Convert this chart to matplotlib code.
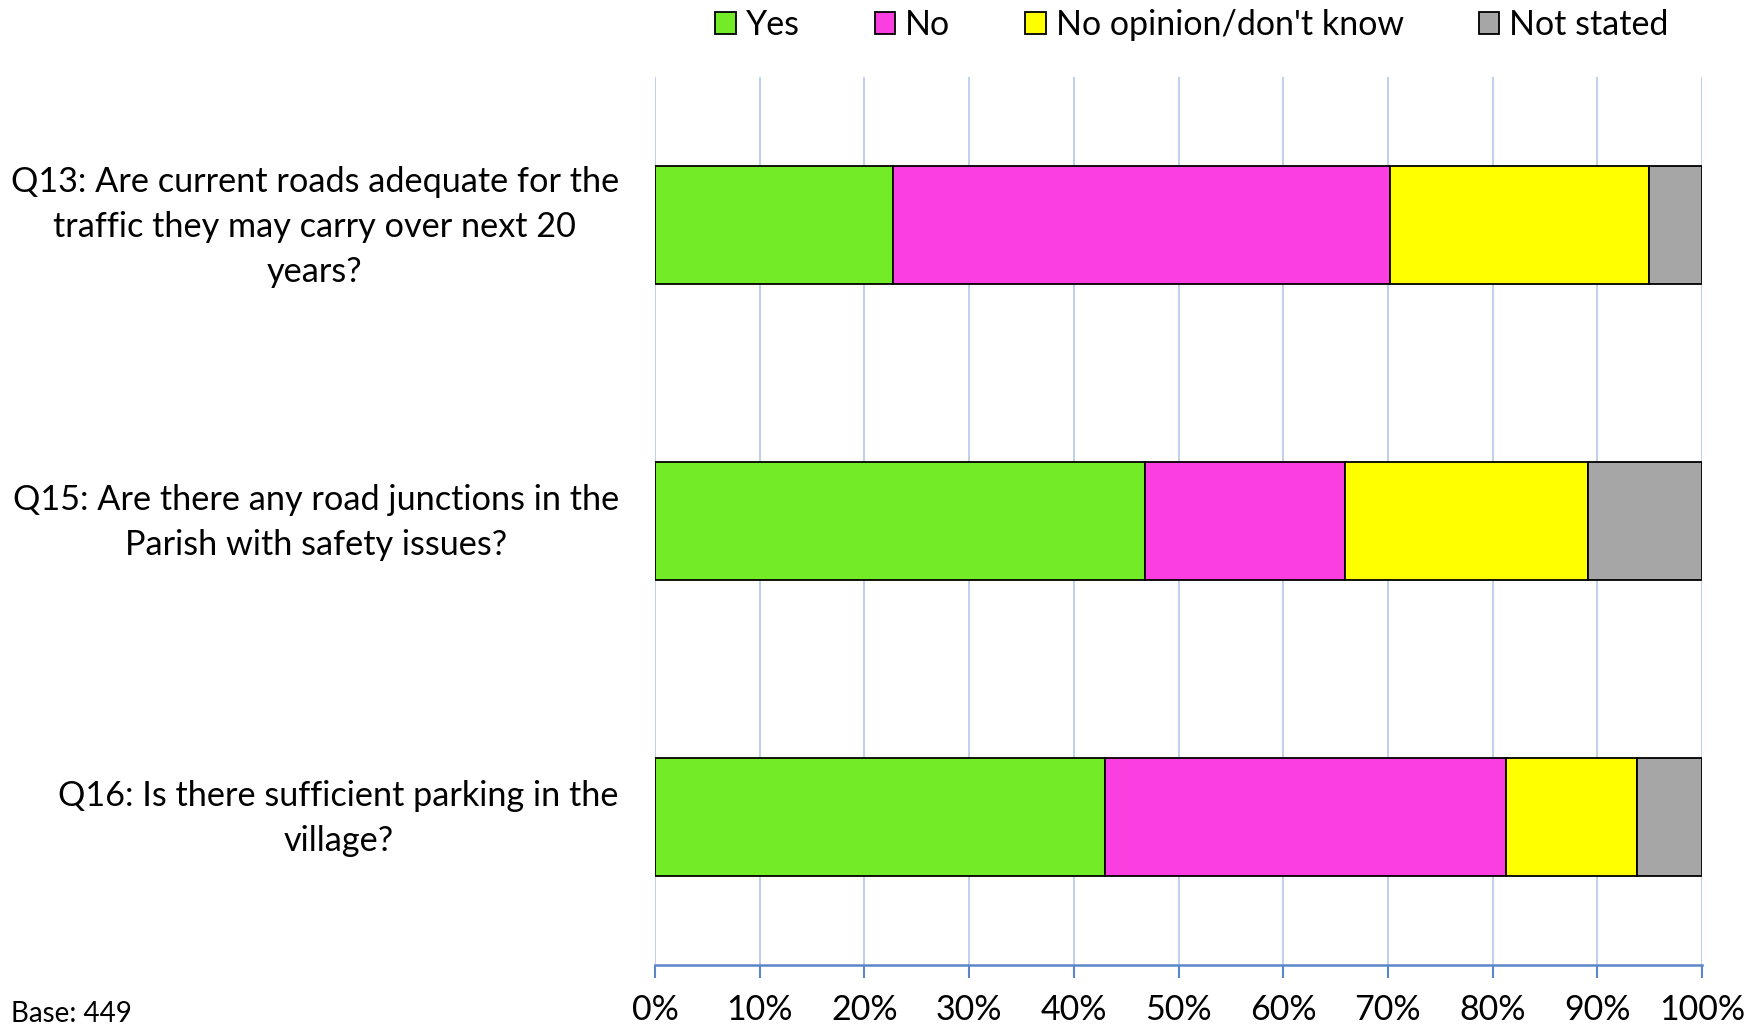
import matplotlib
matplotlib.use("Agg")
import matplotlib.pyplot as plt
import matplotlib.transforms as mtransforms
from matplotlib.patches import Patch
import numpy as np

plt.rcParams['font.family'] = ['Lato', 'DejaVu Sans']

questions = [
    "Q13: Are current roads adequate for the\ntraffic they may carry over next 20\nyears?",
    "Q15: Are there any road junctions in the\nParish with safety issues?",
    "Q16: Is there sufficient parking in the\nvillage?",
]
series_names = ["Yes", "No", "No opinion/don't know", "Not stated"]
yes = [22.7, 46.8, 43.0]
no = [47.5, 19.1, 38.3]
no_opinion = [24.7, 23.2, 12.5]
not_stated = [5.1, 10.9, 6.2]
colors = ["#73EB27", "#FA3EE0", "#FFFF00", "#A6A6A6"]
xticks = [0, 10, 20, 30, 40, 50, 60, 70, 80, 90, 100]
xticklabels = [f"{t}%" for t in xticks]
base_text = "Base: 449"

fig = plt.figure(figsize=(17.65, 10.31), dpi=100)
ax = fig.add_axes([655/1765, 1-965/1031, (1702-655)/1765, (965-77)/1031])

ypos = np.arange(len(questions))
left = np.zeros(len(questions))
for vals, col, name in zip([yes, no, no_opinion, not_stated], colors, series_names):
    ax.barh(ypos, vals, left=left, height=0.4, color=col, edgecolor="black",
            linewidth=1.3, label=name, zorder=3)
    left = left + np.array(vals)

ax.set_xlim(0, 100)
ax.set_ylim(2.5, -0.5)
ax.set_yticks(ypos)
ax.set_yticklabels(questions, fontsize=24.7, multialignment="center", linespacing=1.5)
ax.tick_params(axis="y", length=0, pad=26)
offset = mtransforms.ScaledTranslation(0, 8/100, fig.dpi_scale_trans)
for lab in ax.get_yticklabels():
    lab.set_transform(lab.get_transform() + offset)
ax.set_xticks(xticks)
ax.set_xticklabels(xticklabels, fontsize=24.5)
ax.tick_params(axis="x", direction="out", length=9, width=1.5, color="#5B86C8", pad=12)
ax.grid(axis="x", color="#B9CCEA", linewidth=1.3, zorder=0)
for s in ["top", "right", "left"]:
    ax.spines[s].set_visible(False)
ax.spines["bottom"].set_color("#5B86C8")
ax.spines["bottom"].set_linewidth(1.8)

handles = [Patch(facecolor=c, edgecolor="black", linewidth=1.3) for c in colors]
fig.legend(handles, series_names, loc="center", bbox_to_anchor=(1192/1765, 1-25/1031),
           ncol=4, frameon=False, fontsize=24.5, handlelength=0.6, handleheight=0.6,
           handletextpad=0.3, columnspacing=2.2)

fig.text(11/1765, 1-1014/1031, base_text, fontsize=20, ha="left", va="center")

fig.savefig("out.png", dpi=100)
